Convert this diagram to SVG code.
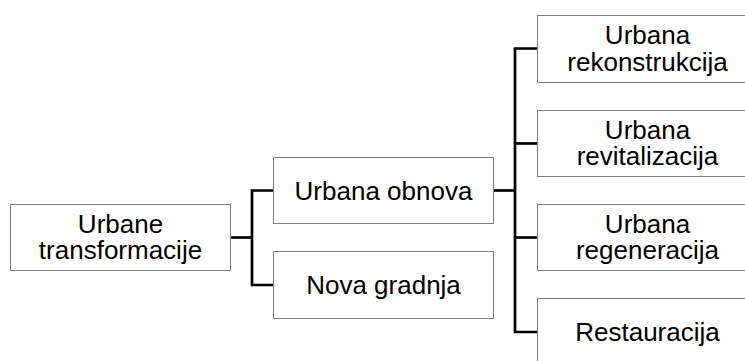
<svg xmlns="http://www.w3.org/2000/svg" width="745" height="361" viewBox="0 0 745 361">
<style>
.box{fill:#fff;stroke:#808080;stroke-width:1}
.t{font-family:"Liberation Sans",Arial,sans-serif;font-size:26px;fill:#000;text-anchor:middle}
.c{fill:none;stroke:#000;stroke-width:2.7;stroke-linejoin:miter}
</style>
<rect width="745" height="361" fill="#fff"/>
<g id="connectors">
<path class="c" d="M231,237.5 H252"/>
<path class="c" d="M273,190.5 H252 V285 H273"/>
<path class="c" d="M494,190.5 H515"/>
<path class="c" d="M537,48.5 H515 V332 H537"/>
<path class="c" d="M515,143.5 H537"/>
<path class="c" d="M515,237.5 H537"/>
</g>
<g id="n-urbane-transformacije">
<rect class="box" x="10.5" y="204.5" width="220" height="66"/>
<text class="t" x="120.5" y="232.5">Urbane</text>
<text class="t" x="120.5" y="259">transformacije</text>
</g>
<g id="n-urbana-obnova">
<rect class="box" x="273.5" y="157.5" width="220" height="66"/>
<text class="t" x="383.5" y="199.5">Urbana obnova</text>
</g>
<g id="n-nova-gradnja">
<rect class="box" x="273.5" y="251.5" width="220" height="67"/>
<text class="t" x="383.5" y="294">Nova gradnja</text>
</g>
<g id="n-urbana-rekonstrukcija">
<rect class="box" x="537.5" y="15.5" width="220" height="67"/>
<text class="t" x="647.5" y="44">Urbana</text>
<text class="t" x="647.5" y="70.5">rekonstrukcija</text>
</g>
<g id="n-urbana-revitalizacija">
<rect class="box" x="537.5" y="110.5" width="220" height="66"/>
<text class="t" x="647.5" y="138.5">Urbana</text>
<text class="t" x="647.5" y="165">revitalizacija</text>
</g>
<g id="n-urbana-regeneracija">
<rect class="box" x="537.5" y="204.5" width="220" height="66"/>
<text class="t" x="647.5" y="232.5">Urbana</text>
<text class="t" x="647.5" y="259">regeneracija</text>
</g>
<g id="n-restauracija">
<rect class="box" x="537.5" y="298.5" width="220" height="67"/>
<text class="t" x="647.5" y="341">Restauracija</text>
</g>
</svg>
